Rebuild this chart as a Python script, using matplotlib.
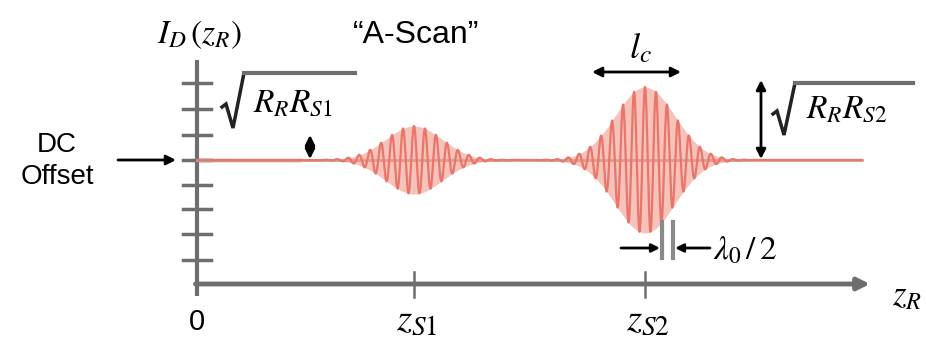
import numpy as np
import matplotlib.pyplot as plt

plt.rcParams['mathtext.fontset'] = 'stix'
plt.rcParams['font.family'] = ['Liberation Sans', 'DejaVu Sans']

# Schematic A-scan: two coherence-gated interference packets on a DC offset
peak_names = ["S1", "S2"]
peak_centers = [414, 645]      # depth position z_S1, z_S2
peak_amps = [34, 73]           # sqrt(R_R R_S) amplitudes
peak_widths = [40, 42]         # envelope width (coherence length l_c)
fringe_period = 11             # lambda_0 / 2 spacing
dc_level = 160
y_ticks = [83, 109, 135, 160, 185, 209, 234, 260]

# Signal
z = np.arange(197, 862, 0.25)
signal = np.full_like(z, float(dc_level))
envelope = np.zeros_like(z)
for c, a, w in zip(peak_centers, peak_amps, peak_widths):
    env = a * np.exp(-((z - c) / w) ** 2)
    envelope += env
    signal -= env * np.cos(2 * np.pi * (z - c) / fringe_period)

fig = plt.figure(figsize=(9.26, 3.39), dpi=100)
ax = fig.add_axes([0, 0, 1, 1])
ax.set_xlim(0, 926)
ax.set_ylim(339, 0)
ax.axis("off")

axis_col = "#6e6e6e"
# Axes
ax.plot([197, 197], [60, 296], color=axis_col, lw=3, solid_capstyle="butt")
ax.annotate("", xy=(870, 284), xytext=(195.5, 284),
            arrowprops=dict(arrowstyle="-|>", color=axis_col, lw=3.5,
                            mutation_scale=18, shrinkA=0, shrinkB=0))
for yt in y_ticks:
    ax.plot([183, 211], [yt, yt], color=axis_col, lw=2.5)
for c in peak_centers:
    ax.plot([c, c], [272, 297], color=axis_col, lw=1.8)

# Signal drawing
ax.fill_between(z, dc_level - envelope, dc_level + envelope,
                color="#f29a8c", alpha=0.6, lw=0)
ax.plot([197, 300], [dc_level, dc_level], color="#c09a92", lw=2.5)
ax.plot([300, 862], [dc_level, dc_level], color="#e49a8e", lw=2)
ax.plot(z, signal, color="#e8766a", lw=1.6)

# Texts
ax.text(197, 330, "0", fontsize=21, ha="center", va="baseline")
for name, c in zip(peak_names, peak_centers):
    ax.text(c + 3, 330, r"$z_{%s}$" % name, fontsize=28, ha="center",
            va="baseline")
ax.text(892, 305, r"$z_R$", fontsize=25, ha="left", va="baseline")
ax.text(200, 43, r"$I_D\,(z_R)$", fontsize=24, ha="center", va="baseline")
ax.text(416, 43, "\u201cA-Scan\u201d", fontsize=23, ha="center", va="baseline")
ax.text(57, 161, "DC\nOffset", fontsize=20, ha="center", va="center",
        linespacing=1.35)
ax.annotate("", xy=(176, 160), xytext=(118, 160),
            arrowprops=dict(arrowstyle="-|>", color="black", lw=2,
                            mutation_scale=14, shrinkA=0, shrinkB=0))

# sqrt(R_R R_S1) label, radical drawn by hand
ax.plot([222, 226, 233, 244, 355], [107, 104, 128, 73, 73], color="#222222",
        lw=2.5, solid_joinstyle="miter")
ax.plot([244, 355], [73, 73], color="#6e6e6e", lw=3)
ax.text(253, 111, r"$R_R R_{S1}$", fontsize=24, ha="left", va="baseline")
ax.annotate("", xy=(310, 135), xytext=(310, 159),
            arrowprops=dict(arrowstyle="<|-|>", color="black", lw=2,
                            mutation_scale=14, shrinkA=0, shrinkB=0))

# sqrt(R_R R_S2) label
ax.annotate("", xy=(761, 80), xytext=(761, 159),
            arrowprops=dict(arrowstyle="<|-|>", color="black", lw=2,
                            mutation_scale=14, shrinkA=0, shrinkB=0))
ax.plot([773, 777, 784, 795, 913], [114, 111, 135, 83, 83], color="#222222",
        lw=2.5, solid_joinstyle="miter")
ax.plot([795, 913], [83, 83], color="#6e6e6e", lw=3)
ax.text(806, 117, r"$R_R R_{S2}$", fontsize=24, ha="left", va="baseline")

# l_c label
ax.annotate("", xy=(592, 72), xytext=(681, 72),
            arrowprops=dict(arrowstyle="<|-|>", color="black", lw=2,
                            mutation_scale=14, shrinkA=0, shrinkB=0))
ax.text(640, 58, r"$l_c$", fontsize=26, ha="center", va="baseline")

# lambda_0 / 2 label
ax.plot([662, 662], [222, 258], color="#8a8a8a", lw=3)
ax.plot([673, 673], [222, 258], color="#8a8a8a", lw=3)
ax.annotate("", xy=(660, 248), xytext=(621, 248),
            arrowprops=dict(arrowstyle="-|>", color="black", lw=2,
                            mutation_scale=12, shrinkA=0, shrinkB=0))
ax.annotate("", xy=(675, 248), xytext=(710, 248),
            arrowprops=dict(arrowstyle="-|>", color="black", lw=2,
                            mutation_scale=12, shrinkA=0, shrinkB=0))
ax.text(713, 260, r"$\lambda_0\,/\,2$", fontsize=24, ha="left", va="baseline")

fig.savefig("out.png", dpi=100)
